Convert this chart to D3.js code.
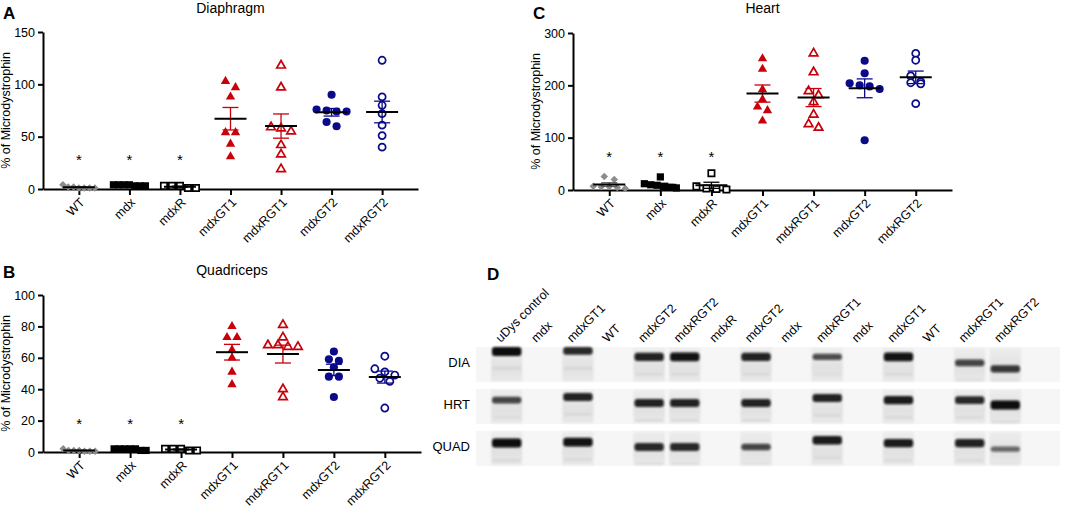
<!DOCTYPE html>
<html>
<head>
<meta charset="utf-8">
<script src="https://cdn.jsdelivr.net/npm/d3@7"></script>
<style>
body{margin:0;background:#fff;}
svg{display:block;font-family:"Liberation Sans",Arial,sans-serif;}
</style>
</head>
<body>
<script>
// groupes du graphique
var groups = ["WT", "mdx", "mdxR", "mdxGT1", "mdxRGT1", "mdxGT2", "mdxRGT2"];

// % of Microdystrophin, une liste par groupe
var diaphragmValues = [
    [4, 2, 1, 1, 1, 1, 2],
    [4, 4, 3, 3, 4, 3, 4],
    [1, 3, 3, 3, 1],
    [103, 97, 88, 54, 54, 43, 31],
    [118, 97, 59, 58, 55, 42, 33, 19],
    [90, 76, 75, 74, 74, 64, 60],
    [123, 88, 80, 72, 61, 51, 40]
];
var heartValues = [
    [26, 20, 7, 6, 6, 5, 3],
    [25, 12, 10, 9, 6, 5, 4],
    [32, 7, 3, 2, 1],
    [251, 231, 192, 173, 159, 152, 132],
    [261, 225, 189, 181, 168, 144, 126, 119],
    [247, 223, 204, 200, 198, 193, 95],
    [261, 248, 218, 207, 205, 203, 165]
];
var quadricepsValues = [
    [2, 1, 1, 0.5, 0.5, 0.5, 1],
    [1, 2, 2, 2, 1, 2, 2],
    [1, 2, 2, 2, 1],
    [80, 73, 73, 65, 60, 51, 43],
    [81, 73, 68, 68, 67, 67, 40, 35],
    [64, 59, 58, 54, 48, 48, 35],
    [61, 53, 51, 49, 47, 45, 28]
];
var diaphragmTicks = [0, 50, 100, 150];
var heartTicks = [0, 100, 200, 300];
var quadricepsTicks = [0, 20, 40, 60, 80, 100];
// niveau des étoiles (* significatif) : diaphragm, heart, quadriceps
var starLevels = [30, 67, 19];

// western blot
var laneLabels = ["uDys control", "mdx", "mdxGT1", "WT", "mdxGT2", "mdxRGT2", "mdxR", "mdxGT2",
                  "mdx", "mdxRGT1", "mdx", "mdxGT1", "WT", "mdxRGT1", "mdxRGT2"];
var blotRows = ["DIA", "HRT", "QUAD"];
var bandIntensity = [
    [1.0, 0, 0.8, 0, 0.85, 0.95, 0, 0.85, 0, 0.55, 0, 0.95, 0, 0.6, 0.7],
    [0.6, 0, 0.85, 0, 0.85, 0.85, 0, 0.85, 0, 0.85, 0, 0.9, 0, 0.8, 1.0],
    [1.0, 0, 0.95, 0, 0.8, 0.8, 0, 0.6, 0, 0.9, 0, 0.9, 0, 0.85, 0.35]
];
// position relative de la bande dans la ligne (0 = haut)
var bandMigration = [
    [0.11, 0, 0.11, 0, 0.28, 0.28, 0, 0.28, 0, 0.28, 0, 0.28, 0, 0.45, 0.62],
    [0.32, 0, 0.23, 0, 0.40, 0.40, 0, 0.40, 0, 0.26, 0, 0.32, 0, 0.32, 0.46],
    [0.35, 0, 0.32, 0, 0.46, 0.46, 0, 0.46, 0, 0.27, 0, 0.35, 0, 0.35, 0.52]
];

window.onload = function(){

    var grey = "#8c8c8c", red = "#c8000a", navy = "#0b0b8a";
    var markerStyle = [
        {type: d3.symbolSquare, size: 28, color: grey, open: false, rotate: true},
        {type: d3.symbolSquare, size: 52, color: "#000", open: false},
        {type: d3.symbolSquare, size: 40, color: "#000", open: true},
        {type: d3.symbolTriangle, size: 38, color: red, open: false},
        {type: d3.symbolTriangle, size: 32, color: red, open: true},
        {type: d3.symbolCircle, size: 52, color: navy, open: false},
        {type: d3.symbolCircle, size: 40, color: navy, open: true}
    ];

    var svg = d3.select(document.body).append('svg')
        .attr('width', 1065).attr('height', 508);

    drawPanel({letter: 'A', title: 'Diaphragm', values: diaphragmValues, ticks: diaphragmTicks,
               star: starLevels[0], x0: 43, x1: 418, yTop: 32, yBottom: 189, letterY: 19, titleY: 13});
    drawPanel({letter: 'C', title: 'Heart', values: heartValues, ticks: heartTicks,
               star: starLevels[1], x0: 573, x1: 952, yTop: 33, yBottom: 190, letterY: 19, titleY: 13});
    drawPanel({letter: 'B', title: 'Quadriceps', values: quadricepsValues, ticks: quadricepsTicks,
               star: starLevels[2], x0: 43, x1: 421, yTop: 295, yBottom: 452, letterY: 278, titleY: 275});
    drawBlot();

    /***********************************************/
    // points repartis horizontalement par rangées (style GraphPad)
    function swarm(values, y, cx){
        var d = 6.5, maxW = 32;
        var pts = values.map(function(v){ return {v: v, y: y(v)}; })
            .sort(function(a, b){ return a.y - b.y; });
        var rows = [], cur = null;
        pts.forEach(function(p){
            if(cur && p.y - cur[0].y < d) cur.push(p);
            else { cur = [p]; rows.push(cur); }
        });
        rows.forEach(function(r){
            var step = r.length > 1 ? Math.min(10, maxW / (r.length - 1)) : 0;
            r.forEach(function(p, i){ p.x = cx + (i - (r.length - 1) / 2) * step; });
        });
        return pts;
    }

    function styleAxis(ax){
        ax.attr('font-family', null).attr('font-size', null);
        ax.select('.domain').attr('stroke', '#000').attr('stroke-width', 2);
        ax.selectAll('.tick line').attr('stroke', '#000').attr('stroke-width', 2);
        ax.selectAll('.tick text').attr('fill', '#000').style('font-size', '12.5px');
    }

    function drawPanel(p){
        var g = svg.append('g');
        var x = d3.scalePoint().domain(groups).range([p.x0, p.x1]).padding(0.71);
        var y = d3.scaleLinear().domain([0, d3.max(p.ticks)]).range([p.yBottom, p.yTop]);

        var yAx = g.append('g').attr('transform', 'translate(' + p.x0 + ',0)')
            .call(d3.axisLeft(y).tickValues(p.ticks).tickSize(5).tickSizeOuter(0).tickPadding(3));
        styleAxis(yAx);

        var xAx = g.append('g').attr('transform', 'translate(0,' + p.yBottom + ')')
            .call(d3.axisBottom(x).tickSize(6).tickSizeOuter(0));
        styleAxis(xAx);
        xAx.selectAll('.tick text')
            .attr('x', 0).attr('y', 0).attr('dy', '0.35em')
            .attr('transform', 'translate(3,11) rotate(-45)')
            .style('text-anchor', 'end');

        // titre, lettre, label y
        g.append('text').attr('x', (p.x0 + p.x1) / 2).attr('y', p.titleY)
            .attr('text-anchor', 'middle').style('font-size', '14px').text(p.title);
        g.append('text').attr('x', p.x0 - 40).attr('y', p.letterY)
            .style('font-size', '17px').style('font-weight', 'bold').text(p.letter);
        g.append('text')
            .attr('transform', 'translate(' + (p.x0 - 33) + ',' + ((p.yTop + p.yBottom) / 2) + ') rotate(-90)')
            .attr('text-anchor', 'middle').style('font-size', '12.5px').text('% of Microdystrophin');

        groups.forEach(function(name, gi){
            var vals = p.values[gi];
            var st = markerStyle[gi];
            var cx = x(name);
            var pts = swarm(vals, y, cx);

            g.append('g').selectAll('path').data(pts).enter().append('path')
                .attr('d', d3.symbol().type(st.type).size(st.size))
                .attr('transform', function(d){
                    return 'translate(' + d.x + ',' + d.y + ')' + (st.rotate ? ' rotate(45)' : '');
                })
                .attr('fill', st.open ? '#fff' : st.color)
                .attr('stroke', st.open ? st.color : 'none')
                .attr('stroke-width', st.open ? 1.7 : 0);

            var m = d3.mean(vals);
            var sem = d3.deviation(vals) / Math.sqrt(vals.length);
            var sg = g.append('g').attr('stroke', st.color === grey ? '#555' : st.color).attr('stroke-width', 1.3);
            sg.append('line').attr('x1', cx).attr('x2', cx).attr('y1', y(m - sem)).attr('y2', y(m + sem));
            sg.append('line').attr('x1', cx - 8).attr('x2', cx + 8).attr('y1', y(m - sem)).attr('y2', y(m - sem));
            sg.append('line').attr('x1', cx - 8).attr('x2', cx + 8).attr('y1', y(m + sem)).attr('y2', y(m + sem));
            g.append('line').attr('x1', cx - 16).attr('x2', cx + 16).attr('y1', y(m)).attr('y2', y(m))
                .attr('stroke', '#000').attr('stroke-width', 2);

            if(gi < 3){
                g.append('text').attr('x', cx).attr('y', y(p.star) + 7)
                    .attr('text-anchor', 'middle').style('font-size', '15px').text('*');
            }
        });
    }

    function drawBlot(){
        var g = svg.append('g');
        var lane = d3.scaleBand().domain(d3.range(laneLabels.length)).range([491, 1021]).paddingInner(0.12);
        var row = d3.scaleBand().domain(blotRows).range([347, 466]).paddingInner(0.16);

        var defs = svg.append('defs');
        defs.append('filter').attr('id', 'blurBand').attr('x', '-20%').attr('y', '-100%')
            .attr('width', '140%').attr('height', '300%')
            .append('feGaussianBlur').attr('stdDeviation', '1.3 1.1');
        defs.append('filter').attr('id', 'blurLane')
            .append('feGaussianBlur').attr('stdDeviation', 1.2);
        var grad = defs.append('linearGradient').attr('id', 'laneGrad')
            .attr('x1', 0).attr('y1', 0).attr('x2', 0).attr('y2', 1);
        grad.append('stop').attr('offset', '0%').attr('stop-color', '#ededed');
        grad.append('stop').attr('offset', '60%').attr('stop-color', '#e1e1e1');
        grad.append('stop').attr('offset', '100%').attr('stop-color', '#e8e8e8');

        g.append('text').attr('x', 487).attr('y', 280)
            .style('font-size', '17px').style('font-weight', 'bold').text('D');

        blotRows.forEach(function(r, ri){
            var top = row(r), h = row.bandwidth();
            g.append('rect').attr('x', 476).attr('y', top).attr('width', 584).attr('height', h)
                .attr('fill', '#f6f6f6');

            var lanes = bandIntensity[ri].map(function(v, li){
                return {li: li, v: v, pos: bandMigration[ri][li]};
            }).filter(function(d){ return d.v > 0; });

            g.append('g').selectAll('rect').data(lanes).enter().append('rect')
                .attr('x', function(d){ return lane(d.li); })
                .attr('y', top + 1).attr('width', lane.bandwidth()).attr('height', h - 2)
                .attr('fill', 'url(#laneGrad)').attr('filter', 'url(#blurLane)');

            // bande secondaire faible
            g.append('g').selectAll('rect').data(lanes).enter().append('rect')
                .attr('x', function(d){ return lane(d.li) + 2; })
                .attr('y', function(d){ return top + h * Math.min(d.pos + 0.45, 0.9); })
                .attr('width', lane.bandwidth() - 4).attr('height', 3)
                .attr('fill', '#000').attr('opacity', function(d){ return 0.05 * d.v; })
                .attr('filter', 'url(#blurBand)');

            g.append('g').selectAll('rect').data(lanes).enter().append('rect')
                .attr('x', function(d){ return lane(d.li) + 1; })
                .attr('y', function(d){
                    var bh = 3 + 6 * d.v;
                    return Math.max(top, top + h * d.pos - bh / 2);
                })
                .attr('width', lane.bandwidth() - 2)
                .attr('height', function(d){ return 3 + 6 * d.v; })
                .attr('rx', 3)
                .attr('fill', '#0a0a0a').attr('opacity', function(d){ return 0.35 + 0.65 * d.v; })
                .attr('filter', 'url(#blurBand)');

            g.append('text').attr('x', 470).attr('y', top + h / 2 - 2).attr('dy', '0.35em')
                .attr('text-anchor', 'end').style('font-size', '13px').text(r);
        });

        g.append('g').selectAll('text').data(laneLabels).enter().append('text')
            .attr('transform', function(d, i){
                return 'translate(' + (lane(i) + lane.bandwidth() / 2 - 6) + ',343) rotate(-45)';
            })
            .style('font-size', '12.5px').text(function(d){ return d; });
    }
};
</script>
</body>
</html>
